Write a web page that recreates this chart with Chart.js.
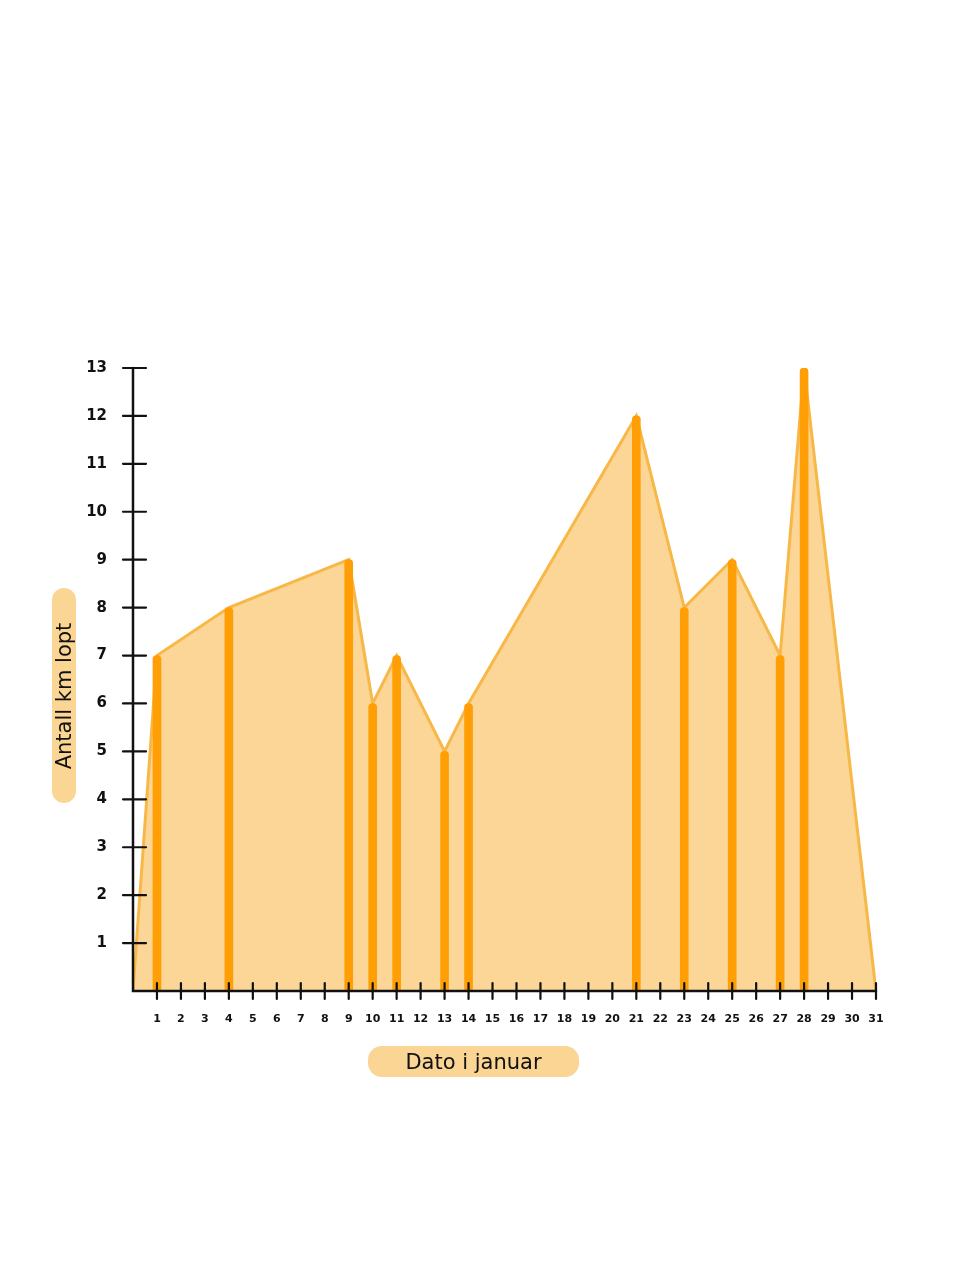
<!DOCTYPE html>
<html>
<head>
<meta charset="utf-8">
<script src="https://cdn.jsdelivr.net/npm/chart.js@4.4.1/dist/chart.umd.min.js"></script>
<style>
  html, body { margin: 0; padding: 0; background: #ffffff; }
  #wrap { position: relative; width: 973px; height: 1277px; }
  canvas { position: absolute; left: 0; top: 0; }
  .pill { position: absolute; background: #fad594; border-radius: 14px; color: #111;
          font-family: "DejaVu Sans", sans-serif; font-size: 21px; white-space: nowrap;
          display: flex; align-items: center; justify-content: center; }
  #xtitle { left: 368px; top: 1046px; width: 211px; height: 31px; }
  #ytitle { left: 52px; top: 588px; width: 24px; height: 215px; }
  #ytitle span { display: block; transform: rotate(-90deg); }
</style>
</head>
<body>
<div id="wrap">
  <canvas id="c" width="973" height="1277"></canvas>
  <div class="pill" id="xtitle">Dato i januar</div>
  <div class="pill" id="ytitle"><span>Antall km lopt</span></div>
</div>
<script>
// Data
const days = [0, 1, 4, 9, 10, 11, 13, 14, 21, 23, 25, 27, 28, 31];
const km   = [0, 7, 8, 9, 6, 7, 5, 6, 12, 8, 9, 7, 13, 0];
const runDays = [1, 4, 9, 10, 11, 13, 14, 21, 23, 25, 27, 28];
const runKm   = [7, 8, 9, 6, 7, 5, 6, 12, 8, 9, 7, 13];
const xTicks = Array.from({length: 31}, (_, i) => i + 1);
const yTicks = Array.from({length: 13}, (_, i) => i + 1);

const areaPoints = days.map((d, i) => ({x: d, y: km[i]}));
const barPoints = runDays.map((d, i) => ({x: d, y: runKm[i]}));

const crossTicks = {
  id: 'crossTicks',
  afterDraw(chart) {
    const {ctx, scales: {x, y}} = chart;
    const x0 = x.getPixelForValue(0);
    const y0 = y.getPixelForValue(0);
    ctx.save();
    ctx.strokeStyle = '#111';
    ctx.lineCap = 'round';
    ctx.lineWidth = 2.5;
    ctx.beginPath();
    ctx.moveTo(x0, y.getPixelForValue(13));
    ctx.lineTo(x0, y0);
    ctx.lineTo(x.getPixelForValue(31), y0);
    ctx.stroke();
    ctx.lineWidth = 2.2;
    xTicks.forEach(v => {
      const px = x.getPixelForValue(v);
      ctx.beginPath(); ctx.moveTo(px, y0 - 8); ctx.lineTo(px, y0 + 8); ctx.stroke();
    });
    yTicks.forEach(v => {
      const py = y.getPixelForValue(v);
      ctx.beginPath(); ctx.moveTo(x0 - 10, py); ctx.lineTo(x0 + 13, py); ctx.stroke();
    });
    ctx.restore();
  }
};

new Chart(document.getElementById('c'), {
  data: {
    datasets: [
      {
        type: 'bar',
        data: barPoints,
        backgroundColor: '#ff9f05',
        barThickness: 8,
        borderRadius: {topLeft: 4, topRight: 4},
        borderSkipped: 'bottom',
        order: 0
      },
      {
        type: 'line',
        data: areaPoints,
        fill: 'origin',
        backgroundColor: '#fbd696',
        borderColor: '#f7b848',
        borderWidth: 3,
        tension: 0,
        pointRadius: 0,
        order: 1
      }
    ]
  },
  options: {
    responsive: false,
    animation: false,
    layout: { padding: { left: 73, right: 97, top: 368, bottom: 236 } },
    plugins: { legend: { display: false }, tooltip: { enabled: false } },
    scales: {
      x: {
        type: 'linear', min: 0, max: 31, offset: false,
        afterFit: s => { s.height = 50; },
        grid: { display: false, offset: false },
        border: { display: false },
        ticks: {
          stepSize: 1, autoSkip: false, maxRotation: 0, padding: 14,
          color: '#111',
          font: { family: 'DejaVu Sans', size: 11, weight: 'bold' },
          callback: v => (v === 0 ? '' : String(v))
        }
      },
      y: {
        type: 'linear', min: 0, max: 13,
        afterFit: s => { s.width = 60; },
        grid: { display: false },
        border: { display: false },
        ticks: {
          stepSize: 1, autoSkip: false, padding: 18,
          color: '#111',
          font: { family: 'DejaVu Sans', size: 15, weight: 'bold' },
          callback: v => (v === 0 ? '' : String(v))
        }
      }
    }
  },
  plugins: [crossTicks]
});
</script>
</body>
</html>
